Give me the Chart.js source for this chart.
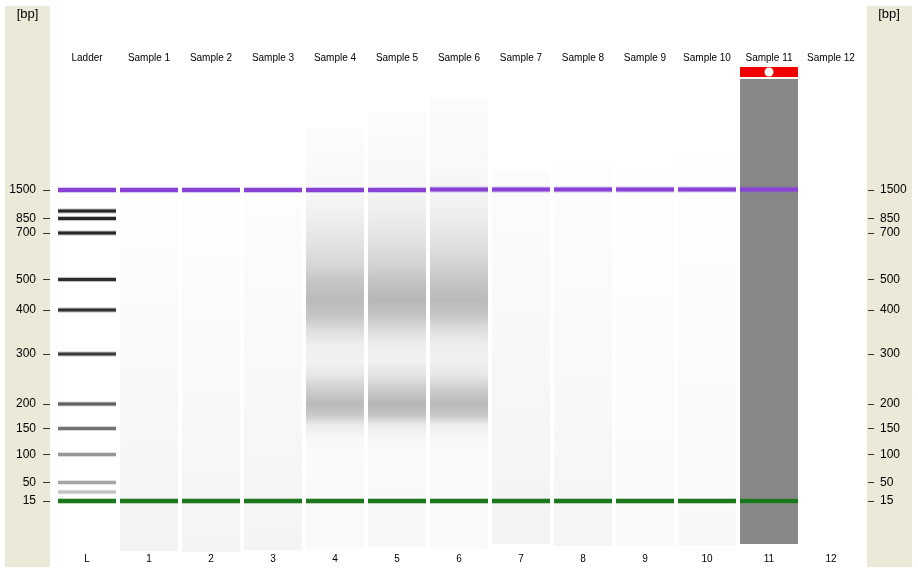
<!DOCTYPE html>
<html>
<head>
<meta charset="utf-8">
<title>Gel image</title>
<script src="https://cdn.jsdelivr.net/npm/chart.js@4"></script>
<style>
  body { margin: 0; background: #fff; }
  #wrap { width: 918px; height: 573px; }
</style>
</head>
<body>
<div id="wrap"><canvas id="gelChart"></canvas></div>
<script>
const laneCodes = ['L', '1', '2', '3', '4', '5', '6', '7', '8', '9', '10', '11', '12'];
const laneNames = ['Ladder', 'Sample 1', 'Sample 2', 'Sample 3', 'Sample 4', 'Sample 5', 'Sample 6',
    'Sample 7', 'Sample 8', 'Sample 9', 'Sample 10', 'Sample 11', 'Sample 12'];

// ladder fragments (bp) and where they ran on the gel (migration, 0 = top of gel)
const ladderSizes = [1500, 1000, 850, 700, 500, 400, 300, 200, 150, 100, 50, 25, 15];
const ladderMigration = [125, 146, 153.5, 168, 214.5, 245, 289, 339, 363.5, 389.5, 417.5, 427, 436];
const ladderGrey = [null, 40, 40, 40, 45, 48, 60, 95, 115, 150, 165, 195, null];
const axisSizes = [1500, 850, 700, 500, 400, 300, 200, 150, 100, 50, 15];

// upper (1500 bp) and lower (15 bp) markers in every lane
const upperMarker = [125, 125, 125, 125, 125, 125, 124.5, 124.5, 124.5, 124.5, 124.5, 124.5, null];
const lowerMarker = [436, 436, 436, 436, 436, 436, 436, 436, 436, 436, 436, 436, null];

// lane background: start, end, grey level at top and at bottom
const laneStart = [null, 125, 130, 120, 63, 47, 32, 105, 100, 110, 90, 14, null];
const laneEnd = [null, 486, 487, 485, 484, 482, 484, 479, 481, 480, 481, 479, null];
const laneTopGrey = [null, 254, 254, 253, 253, 252, 252, 252, 253, 254, 254, 135, null];
const laneBottomGrey = [null, 243, 244, 244, 249, 248, 249, 243, 245, 249, 248, 135, null];

// smear in lanes 4-6: migration of profile points and darkness at each
const smearLanes = [4, 5, 6];
const smearStops = [30, 60, 100, 125, 150, 180, 200, 215, 235, 250, 265, 280, 295, 310, 325, 339, 350, 360, 372, 385];
const smearLane4 = [0, 0.005, 0.01, 0.02, 0.05, 0.1, 0.15, 0.21, 0.26, 0.22, 0.12, 0.05, 0.035, 0.08, 0.18, 0.26, 0.2, 0.06, 0.015, 0];
const smearLane5 = [0, 0.005, 0.012, 0.025, 0.055, 0.11, 0.16, 0.22, 0.27, 0.22, 0.12, 0.05, 0.035, 0.09, 0.19, 0.27, 0.21, 0.06, 0.015, 0];
const smearLane6 = [0.004, 0.006, 0.012, 0.025, 0.055, 0.11, 0.16, 0.21, 0.26, 0.21, 0.11, 0.05, 0.035, 0.08, 0.18, 0.26, 0.2, 0.05, 0.01, 0];
const smearProfiles = [smearLane4, smearLane5, smearLane6];

// failed run flag on sample 11
const flaggedLane = 11;
const flagSpan = [2, 12];

const xMin = -0.597, xMax = 12.597;
const font = 'Liberation Sans, Arial, sans-serif';

function bandData(positions, half) {
    return positions
        .map((m, i) => (m == null ? null : { x: i, y: [m - half, m + half] }))
        .filter(Boolean);
}

// vertical gradient through the y scale
function verticalGradient(ctx, stops, colorAt) {
    const chart = ctx.chart;
    const area = chart.chartArea;
    if (!area) return 'rgba(0,0,0,0)';
    const y = chart.scales.y;
    const grad = chart.ctx.createLinearGradient(0, area.top, 0, area.bottom);
    stops.forEach((m, j) => {
        const t = (y.getPixelForValue(m) - area.top) / (area.bottom - area.top);
        grad.addColorStop(Math.min(1, Math.max(0, t)), colorAt(j));
    });
    return grad;
}

const datasets = [];

datasets.push({
    type: 'line', showLine: false, order: 0,
    data: [{ x: flaggedLane, y: (flagSpan[0] + flagSpan[1]) / 2 }],
    pointRadius: 4.5, pointBackgroundColor: '#fff', pointBorderWidth: 0
});

datasets.push({ data: bandData(upperMarker, 2), backgroundColor: '#8742d4', order: 1 });
datasets.push({ data: bandData(upperMarker, 3), backgroundColor: 'rgba(150, 90, 220, 0.35)', order: 2 });
datasets.push({ data: bandData(lowerMarker, 2), backgroundColor: '#1d781d', order: 1 });
datasets.push({ data: bandData(lowerMarker, 3), backgroundColor: 'rgba(60, 150, 60, 0.35)', order: 2 });

ladderSizes.forEach((bp, i) => {
    const g = ladderGrey[i];
    if (g == null) return;
    const m = ladderMigration[i];
    datasets.push({ data: [{ x: 0, y: [m - 1.5, m + 1.5] }], backgroundColor: `rgb(${g},${g},${g})`, order: 1 });
    datasets.push({ data: [{ x: 0, y: [m - 2.5, m + 2.5] }], backgroundColor: `rgba(${g},${g},${g},0.3)`, order: 2 });
});

datasets.push({ data: [{ x: flaggedLane, y: flagSpan }], backgroundColor: '#f00000', order: 1 });

smearLanes.forEach((lane, k) => {
    const profile = smearProfiles[k];
    datasets.push({
        order: 3,
        data: [{ x: lane, y: [laneStart[lane], smearStops[smearStops.length - 1]] }],
        backgroundColor: (ctx) => verticalGradient(ctx, smearStops, j => `rgba(0,0,0,${profile[j]})`)
    });
});

laneStart.forEach((s, i) => {
    if (s == null) return;
    const top = laneTopGrey[i], bottom = laneBottomGrey[i];
    datasets.push({
        order: 4,
        data: [{ x: i, y: [s, laneEnd[i]] }],
        backgroundColor: (ctx) => verticalGradient(ctx, [s, laneEnd[i]],
            j => { const g = j === 0 ? top : bottom; return `rgb(${g},${g},${g})`; })
    });
});

datasets.forEach(d => {
    if (d.type !== 'line') {
        d.grouped = false;
        d.borderWidth = 0;
        d.barPercentage = 0.935;
        d.categoryPercentage = 1;
    }
});

const yTicks = (scale) => {
    scale.ticks = axisSizes.map(bp => ({ value: ladderMigration[ladderSizes.indexOf(bp)] }));
};

const panels = {
    id: 'panels',
    beforeDraw(chart) {
        const c = chart.ctx;
        c.save();
        c.fillStyle = '#ece9d8';
        c.fillRect(5, 6, 45, 561);
        c.fillRect(867, 6, 45, 561);
        c.restore();
    },
    afterDraw(chart) {
        const c = chart.ctx;
        c.save();
        c.fillStyle = '#000';
        c.font = '13px ' + font;
        c.textAlign = 'center';
        c.textBaseline = 'middle';
        c.fillText('[bp]', 27.5, 14);
        c.fillText('[bp]', 889, 14);
        c.restore();
    }
};

new Chart(document.getElementById('gelChart'), {
    type: 'bar',
    data: { datasets },
    plugins: [panels],
    options: {
        responsive: true,
        maintainAspectRatio: false,
        animation: false,
        layout: { padding: 0 },
        plugins: { legend: { display: false }, tooltip: { enabled: false } },
        scales: {
            x: {
                type: 'linear', position: 'bottom', min: xMin, max: xMax, offset: false,
                grid: { display: false, drawTicks: false }, border: { display: false },
                afterBuildTicks: s => { s.ticks = laneCodes.map((c, i) => ({ value: i })); },
                afterFit: s => { s.height = 21; },
                ticks: {
                    autoSkip: false, maxRotation: 0, padding: 1, color: '#000',
                    font: { family: font, size: 10 },
                    callback: (v, i) => laneCodes[i]
                }
            },
            xTop: {
                type: 'linear', position: 'top', min: xMin, max: xMax, offset: false,
                grid: { display: false, drawTicks: false }, border: { display: false },
                afterBuildTicks: s => { s.ticks = laneNames.map((c, i) => ({ value: i })); },
                afterFit: s => { s.height = 65; },
                ticks: {
                    autoSkip: false, maxRotation: 0, padding: 1, color: '#000',
                    font: { family: font, size: 10 },
                    callback: (v, i) => laneNames[i]
                }
            },
            y: {
                type: 'linear', position: 'left', min: 0, max: 487, reverse: true,
                grid: { drawOnChartArea: false, drawTicks: true, tickLength: 7, tickColor: '#333' },
                border: { display: false },
                afterBuildTicks: yTicks,
                afterFit: s => { s.width = 50; },
                ticks: {
                    autoSkip: false, padding: 7, color: '#000',
                    font: { family: font, size: 12 },
                    callback: (v, i) => String(axisSizes[i])
                }
            },
            yRight: {
                type: 'linear', position: 'right', min: 0, max: 487, reverse: true,
                grid: { drawOnChartArea: false, drawTicks: true, tickLength: 6, tickColor: '#333' },
                border: { display: false },
                afterBuildTicks: yTicks,
                afterFit: s => { s.width = 50; },
                ticks: {
                    autoSkip: false, padding: 6, color: '#000',
                    font: { family: font, size: 12 },
                    callback: (v, i) => String(axisSizes[i])
                }
            }
        }
    }
});
</script>
</body>
</html>
